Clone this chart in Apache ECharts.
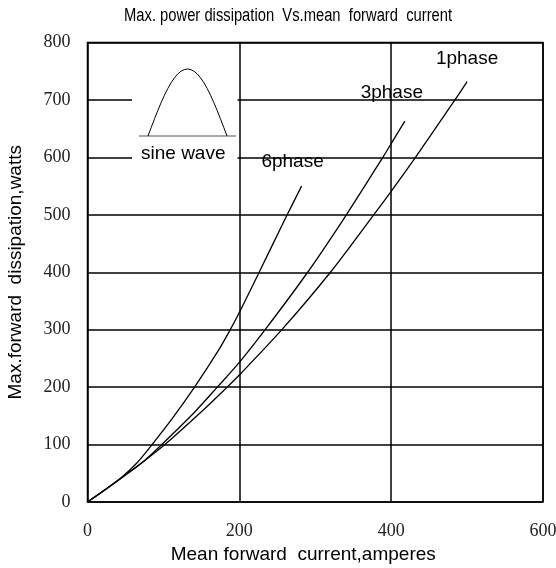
<!DOCTYPE html>
<html>
<head>
<meta charset="utf-8">
<script src="https://cdn.jsdelivr.net/npm/echarts@6/dist/echarts.min.js"></script>
<style>
  html, body { margin: 0; padding: 0; background: #fff; }
  #chart { width: 556px; height: 568px; }
</style>
</head>
<body>
<div id="chart"></div>
<script>
  // 读图数据 (mean forward current A, dissipation W)
  const xTicks = [0, 200, 400, 600]
  const yTicks = [0, 100, 200, 300, 400, 500, 600, 700, 800]
  const phase1 = [[0, 0], [25, 23], [50, 47], [75, 72], [102, 100], [150, 157], [184, 200], [200, 221], [256, 300], [320, 400], [377, 500], [400, 541], [432, 600], [484, 700], [500, 732]]
  const phase3 = [[0, 0], [25, 23], [50, 47], [75, 72], [97, 99], [140, 155], [171, 200], [200, 243], [234, 300], [290, 400], [341, 500], [389, 600], [400, 624], [418, 663]]
  const phase6 = [[0, 0], [25, 23], [45, 43], [65, 68], [85, 100], [112, 146], [141, 200], [172, 263], [188, 300], [200, 330], [225, 397], [263, 500], [282, 550]]
  const seriesNames = ['1phase', '3phase', '6phase']

  const labelFont = 'Liberation Sans, Arial, sans-serif'
  const tickFont = 'Liberation Serif, Times New Roman, serif'

  const chart = echarts.init(document.getElementById('chart'))

  function curve(name, data, offset) {
    return {
      name: name,
      type: 'line',
      data: data,
      smooth: 0.3,
      showSymbol: false,
      silent: true,
      lineStyle: { color: '#000', width: 1.3 },
      endLabel: {
        show: true,
        formatter: name,
        distance: 0,
        align: 'center',
        verticalAlign: 'bottom',
        offset: offset,
        color: '#000',
        fontSize: 19,
        fontFamily: labelFont
      }
    }
  }

  // 正弦波小图
  const hump = []
  for (let i = 0; i <= 24; i++) {
    hump.push([148 + 79 * i / 24, 136 - 67 * Math.sin(Math.PI * i / 24)])
  }

  chart.setOption({
    animation: false,
    grid: {
      left: 87.5,
      right: 13,
      top: 42.5,
      bottom: 66,
      outerBoundsMode: 'none',
      containLabel: false,
      show: true,
      borderColor: '#000',
      borderWidth: 1.5,
      backgroundColor: 'transparent'
    },
    xAxis: {
      type: 'value',
      min: xTicks[0],
      max: xTicks[xTicks.length - 1],
      interval: 200,
      name: 'Mean forward  current,amperes',
      nameLocation: 'middle',
      nameGap: 42,
      nameTextStyle: { fontSize: 19, color: '#000', fontFamily: labelFont, padding: [0, 24, 0, 0] },
      axisLine: { show: false },
      axisTick: { show: false },
      axisLabel: { margin: 20, fontSize: 18, color: '#222', fontFamily: tickFont },
      splitLine: { lineStyle: { color: '#000', width: 1.5 } }
    },
    yAxis: {
      type: 'value',
      min: yTicks[0],
      max: yTicks[yTicks.length - 1],
      interval: 100,
      name: 'Max.forward  dissipation,watts',
      nameLocation: 'middle',
      nameGap: 62,
      nameRotate: 90,
      nameTextStyle: { fontSize: 19, color: '#000', fontFamily: labelFont },
      axisLine: { show: false },
      axisTick: { show: false },
      axisLabel: { margin: 17, fontSize: 18, color: '#222', fontFamily: tickFont, padding: [6, 0, 0, 0] },
      splitLine: { lineStyle: { color: '#000', width: 1.5 } }
    },
    series: [
      curve(seriesNames[0], phase1, [0, -13]),
      curve(seriesNames[1], phase3, [-13, -19]),
      curve(seriesNames[2], phase6, [-9, -15])
    ],
    graphic: [
      // 标题 (窄字体)
      { type: 'text', x: 124, y: 16, scaleX: 0.82, style: { text: 'Max. power dissipation  Vs.mean  forward  current', fontSize: 18, fontFamily: labelFont, fill: '#000', verticalAlign: 'middle' } },
      { type: 'rect', z: 100, shape: { x: 132, y: 60, width: 105.5, height: 112 }, style: { fill: '#fff' } },
      { type: 'line', z: 101, shape: { x1: 139, y1: 136, x2: 236, y2: 136 }, style: { stroke: '#555', lineWidth: 1 } },
      { type: 'polyline', z: 101, shape: { points: hump }, style: { stroke: '#000', lineWidth: 1, fill: null } },
      { type: 'text', z: 101, x: 141, y: 154, style: { text: 'sine wave', fontSize: 19, fontFamily: labelFont, fill: '#000', verticalAlign: 'middle' } }
    ]
  })
</script>
</body>
</html>
